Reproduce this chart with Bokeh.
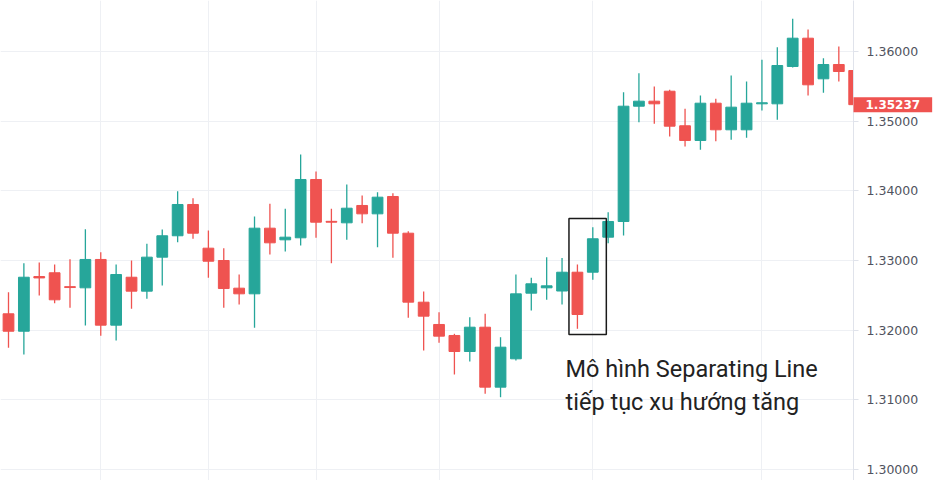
from bokeh.plotting import figure
from bokeh.models import Range1d, FixedTicker, NumeralTickFormatter, Label, ColumnDataSource
from bokeh.embed import file_html
from bokeh.resources import INLINE

# ---- data (candles) ----
opens = [1.32235, 1.31985, 1.32770, 1.32824, 1.32625, 1.32608, 1.33015, 1.32072, 1.32760, 1.32560,
         1.33048, 1.33355, 1.33804, 1.33177, 1.33000, 1.32603, 1.32522, 1.33464, 1.33297, 1.33326,
         1.34163, 1.33562, 1.33541, 1.33790, 1.33670, 1.33919, 1.33392, 1.32402, 1.32082, 1.31924,
         1.31694, 1.32043, 1.31182, 1.31589, 1.32531, 1.32608, 1.32562, 1.32832, 1.32832, 1.33335,
         1.33560, 1.35215, 1.35287, 1.35430, 1.34934, 1.34723, 1.35258, 1.34876, 1.34876, 1.35249,
         1.35249, 1.35785, 1.36191, 1.35608, 1.35813, 1.35727]
highs = [1.32545, 1.32961, 1.32972, 1.32943, 1.33019, 1.33450, 1.33119, 1.32943, 1.33000, 1.33240,
         1.33445, 1.33995, 1.33894, 1.33431, 1.33177, 1.32799, 1.33632, 1.33814, 1.33742, 1.34522,
         1.34278, 1.33742, 1.34091, 1.33933, 1.33981, 1.33966, 1.33421, 1.32555, 1.32258, 1.31948,
         1.32186, 1.32235, 1.31899, 1.32799, 1.32752, 1.33048, 1.33036, 1.32943, 1.33478, 1.33693,
         1.35416, 1.35689, 1.35498, 1.35450, 1.35178, 1.35368, 1.35321, 1.35656, 1.35569, 1.35881,
         1.36062, 1.36469, 1.36316, 1.35904, 1.36072, 1.35740]
lows = [1.31747, 1.31651, 1.32498, 1.32387, 1.32321, 1.32067, 1.31919, 1.31852, 1.32307, 1.32450,
        1.32641, 1.33263, 1.33312, 1.32752, 1.32321, 1.32369, 1.32034, 1.33086, 1.33129, 1.33216,
        1.33326, 1.32961, 1.33297, 1.33536, 1.33191, 1.33039, 1.32178, 1.31708, 1.31819, 1.31364,
        1.31551, 1.31087, 1.31038, 1.31565, 1.32283, 1.32436, 1.32369, 1.32020, 1.32723, 1.33249,
        1.33359, 1.34985, 1.34962, 1.34780, 1.34636, 1.34589, 1.34713, 1.34733, 1.34761, 1.35153,
        1.35020, 1.35770, 1.35368, 1.35407, 1.35569, 1.35230]
closes = [1.31985, 1.32760, 1.32750, 1.32436, 1.32612, 1.33015, 1.32072, 1.32799, 1.32560, 1.33048,
          1.33355, 1.33804, 1.33392, 1.32990, 1.32598, 1.32522, 1.33464, 1.33254, 1.33335, 1.34163,
          1.33550, 1.33550, 1.33751, 1.33670, 1.33909, 1.33392, 1.32402, 1.32201, 1.31914, 1.31694,
          1.32043, 1.31182, 1.31756, 1.32522, 1.32666, 1.32637, 1.32832, 1.32225, 1.33312, 1.33560,
          1.35215, 1.35287, 1.35249, 1.34928, 1.34723, 1.35258, 1.34876, 1.35201, 1.35258, 1.35264,
          1.35799, 1.36191, 1.35522, 1.35813, 1.35713, 1.35237]
price_ticks = [1.30, 1.31, 1.32, 1.33, 1.34, 1.35, 1.36]
time_grid = [6, 13, 20, 28, 38, 49]
pattern_text = ["Mô hình Separating Line", "tiếp tục xu hướng tăng"]

UP = "#26a69a"
DOWN = "#ef5350"
GRID = "#eef0f4"

idx = list(range(len(opens)))
colors = [UP if c >= o else DOWN for o, c in zip(opens, closes)]
src = ColumnDataSource(dict(
    x=idx, o=opens, h=highs, l=lows, c=closes,
    top=[max(o, c) for o, c in zip(opens, closes)],
    bottom=[min(o, c) for o, c in zip(opens, closes)],
    color=colors,
))

p = figure(frame_width=853, frame_height=480, output_backend="svg", toolbar_location=None,
           x_range=Range1d(-0.5203, 54.955), y_range=Range1d(1.298425, 1.367320),
           y_axis_location="right", min_border_left=0, min_border_top=0,
           min_border_bottom=0, min_border_right=78)
p.outline_line_color = None
p.background_fill_color = "white"
p.border_fill_color = "white"

p.xaxis.visible = False
p.xgrid.ticker = FixedTicker(ticks=time_grid)
p.xgrid.grid_line_color = GRID
p.ygrid.grid_line_color = GRID

ya = p.yaxis[0]
ya.ticker = FixedTicker(ticks=price_ticks)
ya.formatter = NumeralTickFormatter(format="0.00000")
ya.axis_line_color = "#e0e3eb"
ya.major_tick_line_color = "#e0e3eb"
ya.major_tick_out = 5
ya.major_tick_in = 0
ya.minor_tick_line_color = None
ya.major_label_standoff = 8
ya.major_label_text_font = "DejaVu Sans"
ya.major_label_text_font_size = "12.5px"
ya.major_label_text_color = "#50535e"
p.ygrid.ticker = FixedTicker(ticks=price_ticks)

p.segment(x0="x", y0="l", x1="x", y1="h", color="color", line_width=1.3, source=src)
p.vbar(x="x", width=0.7, top="top", bottom="bottom", fill_color="color",
       line_color="color", line_width=1, source=src)

# pattern box around candles 37-38
p.quad(left=36.45, right=38.88, top=1.33603, bottom=1.31938, fill_alpha=0,
       line_color="#1a1a1a", line_width=1.5)

p.add_layout(Label(x=36.23, y=1.3145, text=pattern_text[0], text_font="Roboto",
                   text_font_size="23.5px", text_color="#222222", text_baseline="alphabetic"))
p.add_layout(Label(x=36.23, y=1.30966, text=pattern_text[1], text_font="Roboto",
                   text_font_size="23.5px", text_color="#222222", text_baseline="alphabetic"))

# last price label on the price scale
p.add_layout(Label(x=54.955, y=closes[-1], text=f"{closes[-1]:.5f}", text_font="DejaVu Sans",
                   text_font_size="12px", text_font_style="bold", text_color="white",
                   text_align="left", text_baseline="middle",
                   background_fill_color=DOWN, padding=(12, 3)), "right")

open("out.html", "w").write(file_html(p, INLINE))
